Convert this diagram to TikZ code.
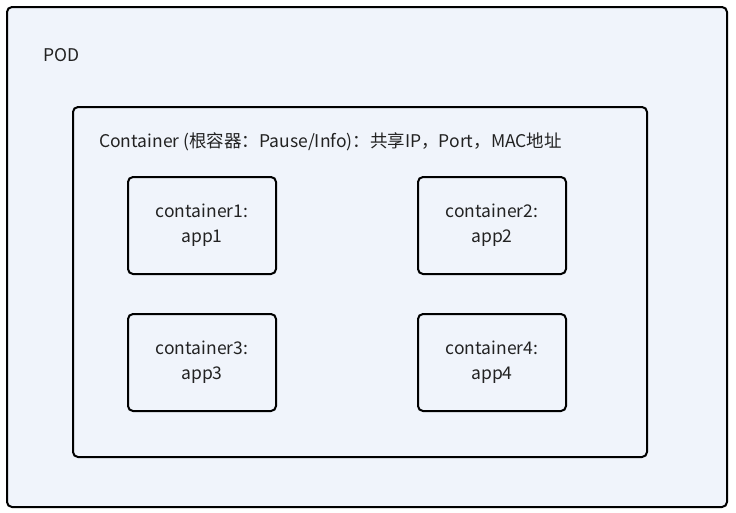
\documentclass[tikz,border=0pt]{standalone}
\usepackage{fontspec}
\setmainfont{Noto Sans CJK SC}
\definecolor{podfill}{RGB}{240,244,251}
\definecolor{inkgray}{RGB}{34,34,34}
\tikzset{
	frame/.style={draw=black, line width=2pt, rounded corners=5pt, fill=podfill},
	appbox/.style={frame, minimum width=148pt, minimum height=97pt, align=center, text=inkgray, font=\fontsize{17.5}{25}\selectfont},
	lbl/.style={anchor=west, inner sep=0pt, text=inkgray, font=\fontsize{17.5}{21}\selectfont}
}
\begin{document}
\begin{tikzpicture}[x=1pt, y=-1pt]
	\useasboundingbox (0,0) rectangle (736,512);
	\node[frame, minimum width=720pt, minimum height=500pt] (pod) at (367,257) {};
	\node[lbl] (podlabel) at (43,55) {POD};
	\node[frame, minimum width=574pt, minimum height=350pt] (container) at (360,282) {};
	\node[lbl] (containerlabel) at (99,142) {Container (根容器：Pause/Info)：共享IP，Port，MAC地址};
	\node[appbox] (app1) at (202,225.5) {container1:\\app1};
	\node[appbox] (app2) at (492,225.5) {container2:\\app2};
	\node[appbox] (app3) at (202,362.5) {container3:\\app3};
	\node[appbox] (app4) at (492,362.5) {container4:\\app4};
\end{tikzpicture}
\end{document}
